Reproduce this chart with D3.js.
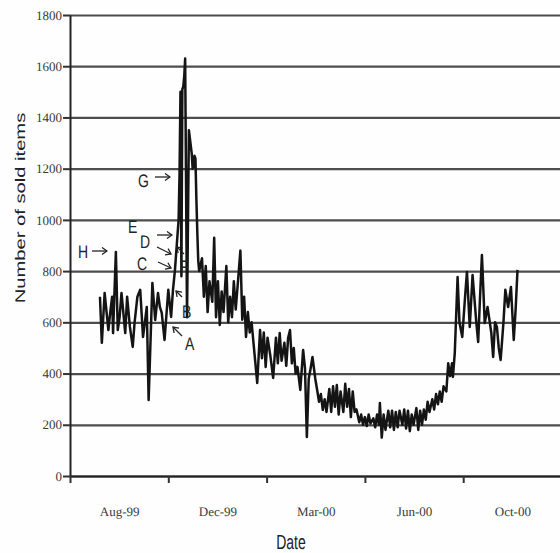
<!DOCTYPE html>
<html>
<head>
<meta charset="utf-8">
<script src="https://cdn.jsdelivr.net/npm/d3@7"></script>
<style>
  body { margin: 0; background: #fff; }
  text { text-rendering: geometricPrecision; }
  .tick text { font-family: "Liberation Serif", "Times New Roman", serif; font-size: 13px; fill: #3a3a3a; }
  .note { font-family: "Liberation Sans", Arial, sans-serif; font-size: 14px; fill: #222; }
  .title { font-family: "Liberation Sans", Arial, sans-serif; font-size: 14px; fill: #222; }
</style>
</head>
<body>
<div class="container"></div>
<script>
// data: days counted from dataStart, and sold items for that day
const dataStart = '1999-07-31';
const dayNo = [
  0,2,5,9,11,13,14,17,19,21,
  23,27,29,32,35,37,40,43,46,48,
  50,52,56,59,62,64,66,69,73,76,
  78,
  80,81,82,83,84,85,86,87,88,89,
  90,91,93,95,96,97,98,99,100,101,
  102,103,104,105,106,
  109,111,113,115,117,120,122,124,126,128,
  130,132,135,137,139,141,143,145,147,150,
  152,154,156,158,160,162,164,168,171,173,
  175,177,179,182,185,188,190,192,194,197,
  199,201,203,205,207,209,211,214,217,219,
  221,223,225,227,230,232,234,236,238,240,
  242,245,247,249,251,253,255,257,260,262,
  264,266,268,270,272,274,277,279,281,283,
  285,287,289,292,294,296,298,299,301,303,
  305,308,310,312,314,316,318,320,323,325,
  327,329,331,333,335,338,340,342,344,346,
  348,350,352,355,357,359,361,363,365,367,
  370,372,374,376,377,379,382,384,387,390,
  392,395,398,402,404,406,408,411,414,418,
  420,422,424,426,428,431,433,436,439,442,
  444,446
];
const sold = [
  700,520,715,570,640,700,558,875,570,620,
  715,558,700,582,504,600,700,727,543,600,
  660,297,754,609,715,660,637,531,727,621,
  727,
  800,850,900,950,1000,1180,1500,780,1510,1520,
  1560,1630,620,1350,1320,1290,1260,1200,1210,1250,
  1240,1080,950,840,800,
  850,700,820,640,760,680,930,620,760,590,
  720,640,820,600,700,620,760,650,740,880,
  610,700,543,640,560,600,520,363,570,460,
  560,426,540,470,383,540,440,558,450,520,
  430,540,570,440,500,400,426,336,492,420,
  152,380,420,465,380,336,290,320,258,300,
  250,340,250,350,270,355,240,330,250,360,
  270,340,230,330,250,260,210,240,200,230,
  195,240,205,225,190,240,200,285,150,240,
  180,255,190,255,180,250,190,255,200,260,
  185,255,175,240,200,265,180,255,200,260,
  220,290,250,300,260,320,280,330,290,350,
  330,440,390,440,387,480,777,600,543,700,
  797,582,785,600,523,700,863,597,660,560,
  465,600,582,500,453,600,727,660,738,531,
  650,805
];
const yTicks = [0, 200, 400, 600, 800, 1000, 1200, 1400, 1600, 1800];
const tickDates = ['1999-06-29', '1999-10-12', '2000-01-25', '2000-05-09', '2000-08-22'];
const labelDates = ['1999-08-20', '1999-12-03', '2000-03-17', '2000-06-30', '2000-10-13'];
const axisEnd = '2000-12-05';
const noteLetters = ['H', 'G', 'E', 'D', 'C', 'F', 'B', 'A'];

// layout of the hand-drawn notes (page pixels)
const noteXY = [[78, 258], [138, 187], [128, 233], [140, 248], [137, 270], [180, 273], [182, 318], [185, 350]];
const arrows = [
  [92, 251, 107, 251], [155, 177, 170, 177], [157, 235, 172, 235], [157, 247, 171, 254],
  [158, 262, 171, 268], [184, 254, 177, 247], [182, 297, 176, 291], [182, 336, 173, 327]
];

// initial setup
const w = 560;
const h = 553;
const [margin_top, margin_left, margin_bottom, margin_right] = [15, 70, 77, 0];
const plotWidth = w - margin_left - margin_right;
const plotHeight = h - margin_top - margin_bottom;

const parse = d3.timeParse('%Y-%m-%d');
const start = parse(dataStart);
const data = dayNo.map((d, i) => ({ date: d3.timeDay.offset(start, d), v: sold[i] }));

const svg = d3.select('.container')
              .append('svg')
              .attr('width', w)
              .attr('height', h)
              .style('display', 'block');
svg.append('rect').attr('width', w).attr('height', h).attr('fill', '#fefefe');

const plot = svg.append('g')
                .attr('transform', `translate(${margin_left}, ${margin_top})`);

const x = d3.scaleTime()
            .domain([parse(tickDates[0]), parse(axisEnd)])
            .range([0, 491.5]);
const y = d3.scaleLinear()
            .domain([0, 1800])
            .range([plotHeight, 0]);

// grid
const grid = plot.append('g')
                 .call(d3.axisLeft(y).tickValues(yTicks).tickSize(-plotWidth).tickFormat(''));
grid.select('.domain').remove();
grid.selectAll('line').attr('stroke', '#4d4d4d').attr('stroke-width', 2.2);

// y axis
const yGroup = plot.append('g')
                   .call(d3.axisLeft(y).tickValues(yTicks).tickSize(7).tickSizeOuter(0)
                           .tickPadding(1).tickFormat(d3.format('d')));
yGroup.select('.domain').attr('stroke', '#222').attr('stroke-width', 2);
yGroup.selectAll('line').attr('stroke', '#333').attr('stroke-width', 2);

// x axis: tick marks and labels between them
const xGroup = plot.append('g')
                   .attr('transform', `translate(0, ${plotHeight})`)
                   .call(d3.axisBottom(x).tickValues(tickDates.map(parse)).tickSize(7).tickSizeOuter(0).tickFormat(''));
xGroup.select('.domain').attr('stroke', '#222').attr('stroke-width', 2);
xGroup.selectAll('line').attr('stroke', '#333').attr('stroke-width', 2);

const xLabels = plot.append('g')
                    .attr('transform', `translate(0, ${plotHeight})`)
                    .call(d3.axisBottom(x)
                            .tickValues(labelDates.map(d => d3.timeHour.offset(parse(d), 12)))
                            .tickSize(0)
                            .tickPadding(31)
                            .tickFormat(d3.timeFormat('%b-%y')));
xLabels.select('.domain').remove();

// line
const line = d3.line()
               .x(d => x(d.date))
               .y(d => y(d.v));
plot.append('path')
    .datum(data)
    .attr('d', line)
    .attr('fill', 'none')
    .attr('stroke', '#141414')
    .attr('stroke-width', 2.5)
    .attr('stroke-linejoin', 'round');

// notes
svg.append('defs').append('marker')
   .attr('id', 'head')
   .attr('viewBox', '-6 -4 7 8')
   .attr('markerWidth', 7)
   .attr('markerHeight', 8)
   .attr('markerUnits', 'userSpaceOnUse')
   .attr('orient', 'auto')
   .append('path')
   .attr('d', 'M-5,-3.5 L0,0 L-5,3.5')
   .attr('fill', 'none')
   .attr('stroke', '#222')
   .attr('stroke-width', 1.3);

const notes = svg.append('g').attr('opacity', 0.99);

notes.selectAll('.arrow')
   .data(arrows)
   .enter()
   .append('line')
   .attr('class', 'arrow')
   .attr('x1', d => d[0]).attr('y1', d => d[1])
   .attr('x2', d => d[2]).attr('y2', d => d[3])
   .attr('stroke', '#222')
   .attr('stroke-width', 1.3)
   .attr('marker-end', 'url(#head)');

notes.selectAll('.note')
   .data(noteLetters)
   .enter()
   .append('text')
   .attr('class', 'note')
   .attr('transform', (d, i) => `translate(${noteXY[i][0]}, ${noteXY[i][1]}) scale(1, 1.3)`)
   .text(d => d);

// titles
svg.append('text')
   .attr('class', 'title')
   .attr('text-anchor', 'middle')
   .attr('transform', 'translate(25, 208) rotate(-90) scale(1.44, 1)')
   .text('Number of sold items');

svg.append('text')
   .attr('class', 'title')
   .attr('text-anchor', 'middle')
   .attr('transform', 'translate(291, 549) scale(1, 1.45)')
   .text('Date');
</script>
</body>
</html>
